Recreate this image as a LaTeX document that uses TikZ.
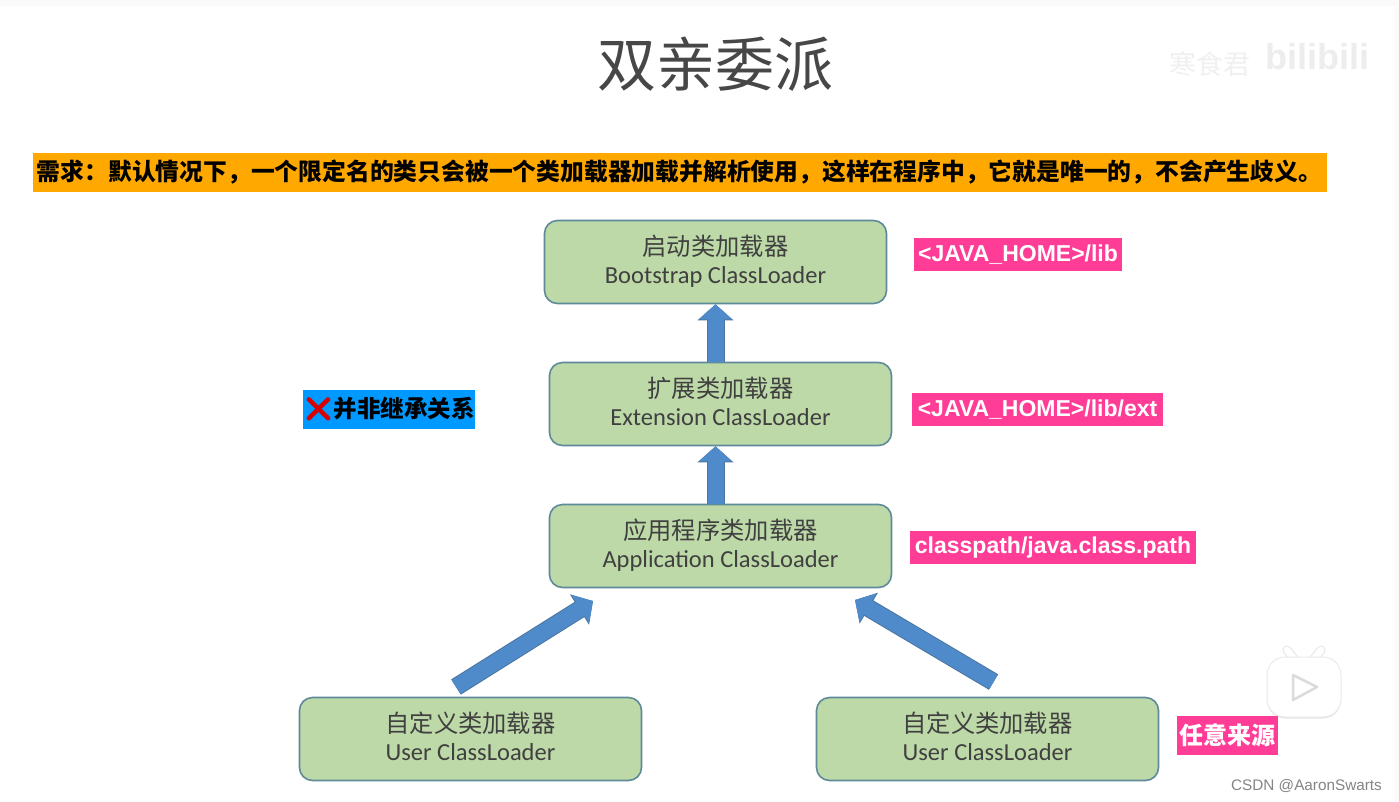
\documentclass[tikz,border=0pt]{standalone}
\usepackage{fontspec}
\usepackage{xcolor}
\usetikzlibrary{arrows.meta,shadows}
\newfontfamily\cjk{Noto Sans CJK SC}
\newfontfamily\latn{Carlito}
\newfontfamily\emojifont{Noto Emoji}
\setmainfont{Liberation Sans}
\definecolor{boxgreen}{HTML}{BDD9A8}
\definecolor{boxline}{HTML}{5E8A9A}
\definecolor{arrowblue}{HTML}{4F8ACB}
\definecolor{arrowline}{HTML}{4A76A0}
\definecolor{labelpink}{HTML}{FF3D97}
\definecolor{labelblue}{HTML}{0099FF}
\definecolor{bannerorange}{HTML}{FFA900}
\tikzset{
  loader/.style={draw=boxline,fill=boxgreen,line width=1.6pt,rounded corners=13pt,
    minimum width=342pt,minimum height=83pt,inner sep=0pt,align=center,text=black!75,text depth=6pt},
  pathlabel/.style={fill=labelpink,text=white,inner sep=0pt,font=\bfseries\fontsize{23}{23}\selectfont},
  blockarrow/.style={arrowblue,line width=16pt,-{Triangle[width=32pt,length=15pt]},
    preaction={draw=arrowline,line width=18pt,-{Triangle[width=35pt,length=16pt]}}}
}
\newcommand{\zhline}[1]{{\cjk\fontsize{24.3}{24.3}\selectfont #1}}
\newcommand{\enline}[1]{{\latn\fontsize{24.5}{24.5}\selectfont #1}}
\newcommand{\zhcolon}{\symbol{"FF1A}}
\newcommand{\zhcomma}{\symbol{"FF0C}}
\begin{document}
\begin{tikzpicture}[x=1pt,y=-1pt]
  \useasboundingbox (0,0) rectangle (1399,801);
  \fill[black!2] (0,0) rectangle (1399,801);
  \fill[white] (0,6) rectangle (1395,801);
  \node (title) at (715.5,64) {\cjk\fontsize{59}{59}\selectfont\color{black!72}双亲委派};
  \node (mark) at (1210,64) {\cjk\fontsize{27}{27}\selectfont\color{black!6}寒食君};
  \node (site) at (1317,57) {\bfseries\fontsize{36}{36}\selectfont\color{black!7}bilibili};
  \node[fill=bannerorange,minimum width=1294pt,minimum height=39pt,inner sep=0pt] (need) at (680,172.5)
    {\cjk\bfseries\fontsize{23.8}{23.8}\selectfont\hspace*{-1pt}需求\zhcolon 默认情况下\zhcomma 一个限定名的类只会被一个类加载器加载并解析使用\zhcomma 这样在程序中\zhcomma 它就是唯一的\zhcomma 不会产生歧义。};
  \node[loader] (boot) at (715.5,262) {\zhline{启动类加载器}\\[8pt]\enline{Bootstrap ClassLoader}};
  \node[loader] (ext) at (720.5,404) {\zhline{扩展类加载器}\\[8pt]\enline{Extension ClassLoader}};
  \node[loader] (app) at (720.5,546) {\zhline{应用程序类加载器}\\[8pt]\enline{Application ClassLoader}};
  \node[loader] (userl) at (470.5,739) {\zhline{自定义类加载器}\\[8pt]\enline{User ClassLoader}};
  \node[loader] (userr) at (987.5,739) {\zhline{自定义类加载器}\\[8pt]\enline{User ClassLoader}};
  \node[pathlabel,minimum width=208pt,minimum height=33pt] (bootpath) at (1018,254.5) {<JAVA\_HOME>/lib};
  \node[pathlabel,minimum width=251pt,minimum height=33pt] (extpath) at (1037.5,409.5) {<JAVA\_HOME>/lib/ext};
  \node[pathlabel,minimum width=286pt,minimum height=33pt] (apppath) at (1053,547.5) {classpath/java.class.path};
  \node[pathlabel,minimum width=101pt,minimum height=39pt] (anysrc) at (1227.5,735.5) {\cjk\bfseries\fontsize{24}{24}\selectfont 任意来源};
  \node[fill=labelblue,minimum width=172pt,minimum height=39pt,inner sep=0pt] (notinherit) at (389,409.5)
    {{\emojifont\fontsize{24}{24}\selectfont\color{red!85!black}❌}{\cjk\bfseries\fontsize{23.5}{23.5}\selectfont 并非继承关系}};
  \coordinate (tailr) at (993.5,682);
  \coordinate (tipr) at (855,600);
  \coordinate (taill) at (456,687);
  \coordinate (tipl) at (593,601);
  \draw[blockarrow] (ext.north -| boot.south) -- (boot.south);
  \draw[blockarrow] (app.north -| boot.south) -- (ext.south -| boot.south);
  \draw[blockarrow] (taill) -- (tipl);
  \draw[blockarrow] (tailr) -- (tipr);
  \draw[line width=9pt,black!10,line cap=round] (1287,650) -- (1295,660);
  \draw[line width=9pt,black!10,line cap=round] (1321,650) -- (1313,660);
  \draw[line width=7pt,white,line cap=round] (1287,650) -- (1295,660);
  \draw[line width=7pt,white,line cap=round] (1321,650) -- (1313,660);
  \node[draw=black!8,line width=1pt,fill=white,rounded corners=18pt,minimum width=74pt,minimum height=60pt,inner sep=0pt,
    drop shadow={opacity=0.2,shadow xshift=0pt,shadow yshift=-1.5pt}] (play) at (1304,687) {};
  \draw[black!14,line width=2.5pt,line join=round,fill=white] (1293,675) -- (1317,687) -- (1293,700) -- cycle;
  \node[text=black!48] (csdn) at (1306.5,785.5) {\fontsize{15.3}{15.3}\selectfont CSDN @AaronSwarts};
\end{tikzpicture}
\end{document}
